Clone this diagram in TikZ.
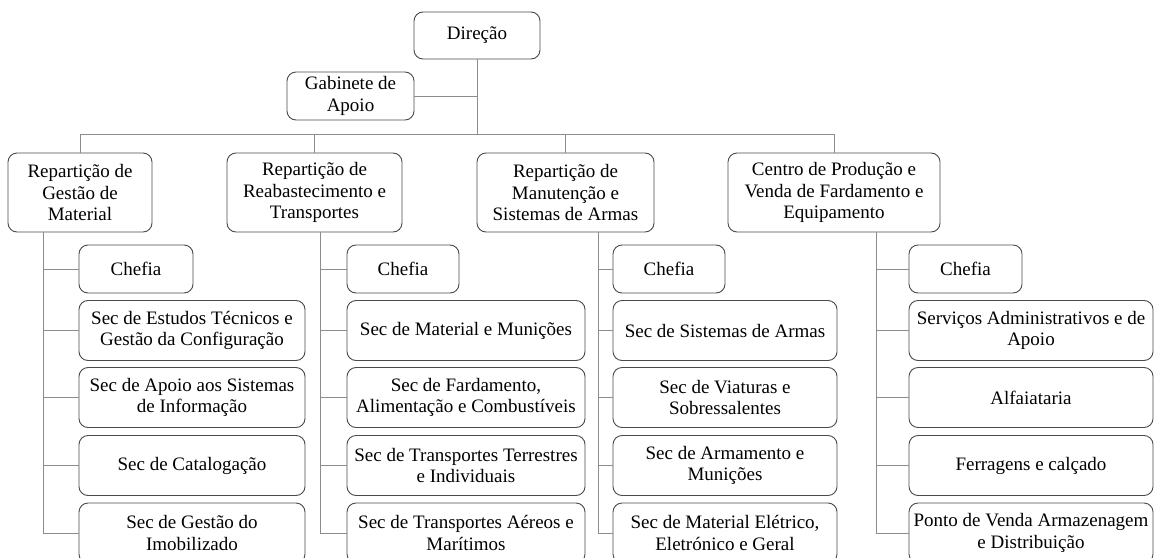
\documentclass[tikz,border=0pt]{standalone}
\usepackage{fontspec}
\setmainfont{Liberation Serif}
\definecolor{boxline}{HTML}{4A4A4A}
\definecolor{linkline}{HTML}{8C8C8C}
\tikzset{
  unit/.style={draw=boxline, line width=0.9pt, rounded corners=9pt, align=center, inner sep=0pt,
    font=\fontsize{19}{21.5}\selectfont},
  head/.style={unit, minimum height=79pt},
  chefe/.style={unit, minimum height=48pt},
  sec/.style={unit, minimum height=60pt},
  link/.style={draw=linkline, line width=0.8pt}
}
\begin{document}
\begin{tikzpicture}[x=1pt,y=-1pt]
\useasboundingbox (0,0) rectangle (1156,557);
\node[unit, minimum width=126pt, minimum height=47pt] (dir) at (477,35.5) {Direção};
\node[unit, minimum width=127pt, minimum height=48pt] (gab) at (350.5,96) {Gabinete de\\Apoio};
\coordinate (bus) at (477,134);

\node[head, minimum width=144pt] (rep1) at (80,192.5) {Repartição de\\Gestão de\\Material};
\node[head, minimum width=175pt] (rep2) at (314.5,192.5) {Repartição de\\Reabastecimento e\\Transportes};
\node[head, minimum width=177pt] (rep3) at (565.5,192.5) {Repartição de\\Manutenção e\\Sistemas de Armas};
\node[head, minimum width=212pt] (rep4) at (834,192.5) {Centro de Produção e\\Venda de Fardamento e\\Equipamento};

\node[chefe, minimum width=114pt] (c1) at (136,269) {Chefia};
\node[sec, minimum width=226pt] (a1) at (192,330.5) {Sec de Estudos Técnicos e\\Gestão da Configuração};
\node[sec, minimum width=226pt] (b1) at (192,397.5) {Sec de Apoio aos Sistemas\\de Informação};
\node[sec, minimum width=226pt] (d1) at (192,465.5) {Sec de Catalogação};
\node[sec, minimum width=226pt] (e1) at (192,533) {Sec de Gestão do\\Imobilizado};

\node[chefe, minimum width=112pt] (c2) at (403,269) {Chefia};
\node[sec, minimum width=238pt] (a2) at (466,330.5) {Sec de Material e Munições};
\node[sec, minimum width=238pt] (b2) at (466,397.5) {Sec de Fardamento,\\Alimentação e Combustíveis};
\node[sec, minimum width=238pt] (d2) at (466,465.5) {Sec de Transportes Terrestres\\e Individuais};
\node[sec, minimum width=238pt] (e2) at (466,533) {Sec de Transportes Aéreos e\\Marítimos};

\node[chefe, minimum width=112pt] (c3) at (669,269) {Chefia};
\node[sec, minimum width=224pt] (a3) at (725,330.5) {Sec de Sistemas de Armas};
\node[sec, minimum width=224pt] (b3) at (725,397.5) {Sec de Viaturas e\\Sobressalentes};
\node[sec, minimum width=224pt] (d3) at (725,465.5) {Sec de Armamento e\\Munições};
\node[sec, minimum width=224pt] (e3) at (725,533) {Sec de Material Elétrico,\\Eletrónico e Geral};

\node[chefe, minimum width=113pt] (c4) at (965.5,269) {Chefia};
\node[sec, minimum width=244pt] (a4) at (1031,330.5) {Serviços Administrativos e de\\Apoio};
\node[sec, minimum width=244pt] (b4) at (1031,397.5) {Alfaiataria};
\node[sec, minimum width=244pt] (d4) at (1031,465.5) {Ferragens e calçado};
\node[sec, minimum width=244pt] (e4) at (1031,533) {Ponto de Venda Armazenagem\\e Distribuição};

\coordinate (s1) at (43,533);
\coordinate (s2) at (320,533);
\coordinate (s3) at (598,533);
\coordinate (s4) at (876,533);

\draw[link] (dir.south) -- (bus);
\draw[link] (gab.east) -- (gab.east -| dir.south);
\draw[link] (rep1.north) |- (bus);
\draw[link] (rep2.north) |- (bus);
\draw[link] (rep3.north) |- (bus);
\draw[link] (rep4.north) |- (bus);

\draw[link] (rep1.south -| s1) -- (s1) -- (e1.west);
\draw[link] (s1 |- c1.west) -- (c1.west) (s1 |- a1.west) -- (a1.west)
  (s1 |- b1.west) -- (b1.west) (s1 |- d1.west) -- (d1.west);
\draw[link] (rep2.south -| s2) -- (s2) -- (e2.west);
\draw[link] (s2 |- c2.west) -- (c2.west) (s2 |- a2.west) -- (a2.west)
  (s2 |- b2.west) -- (b2.west) (s2 |- d2.west) -- (d2.west);
\draw[link] (rep3.south -| s3) -- (s3) -- (e3.west);
\draw[link] (s3 |- c3.west) -- (c3.west) (s3 |- a3.west) -- (a3.west)
  (s3 |- b3.west) -- (b3.west) (s3 |- d3.west) -- (d3.west);
\draw[link] (rep4.south -| s4) -- (s4) -- (e4.west);
\draw[link] (s4 |- c4.west) -- (c4.west) (s4 |- a4.west) -- (a4.west)
  (s4 |- b4.west) -- (b4.west) (s4 |- d4.west) -- (d4.west);
\end{tikzpicture}
\end{document}
